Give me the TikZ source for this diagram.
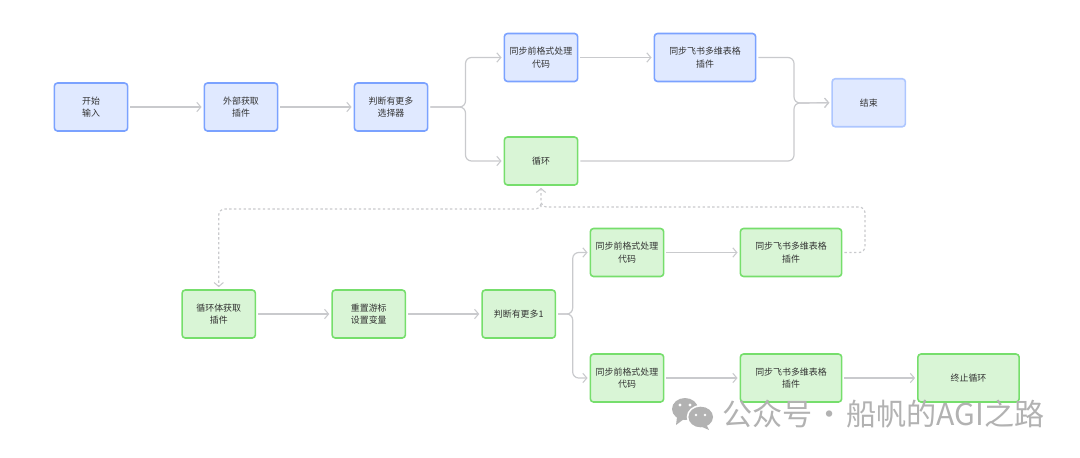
\documentclass[tikz,border=0pt]{standalone}
\usepackage{fontspec}
\newfontfamily\cjk{Noto Sans CJK SC}
\usetikzlibrary{arrows.meta}
\definecolor{blueFill}{HTML}{E0E9FF}
\definecolor{blueLine}{HTML}{7BA2FF}
\definecolor{endLine}{HTML}{ADC6FF}
\definecolor{greenFill}{HTML}{D9F5D6}
\definecolor{greenLine}{HTML}{76DE6C}
\definecolor{linkGray}{HTML}{C9CACD}
\definecolor{markGray}{HTML}{B2B2B2}
\tikzset{
  box/.style={draw, line width=1.2pt, rounded corners=2.4pt, minimum height=36pt, inner sep=0pt,
    align=center, text=black!80, font=\cjk\fontsize{6.7}{9.5}\selectfont},
  bluebox/.style={box, draw=blueLine, fill=blueFill},
  greenbox/.style={box, draw=greenLine, fill=greenFill},
  narrow/.style={minimum width=55pt},
  wide/.style={minimum width=76pt},
  link/.style={draw=linkGray, line width=0.9pt, rounded corners=4.5pt, shorten <=1.5pt, shorten >=1.5pt,
    -{Straight Barb[length=3pt,width=7pt,line width=0.8pt]}},
  back/.style={link, dash pattern=on 1.8pt off 1.8pt},
}

\begin{document}
\begin{tikzpicture}[x=0.75pt,y=-0.75pt]

    \useasboundingbox (0,0) rectangle (1080,457);

    % ----- Top row
    \node[bluebox, narrow] (start) at (91,107) {开始\\输入};
    \node[bluebox, narrow] (fetch) at (241,107) {外部获取\\插件};
    \node[bluebox, narrow] (pick) at (391,107) {判断有更多\\选择器};
    \node[bluebox, narrow] (fmtA) at (541,57.5) {同步前格式处理\\代码};
    \node[bluebox, wide] (syncA) at (705,57.5) {同步飞书多维表格\\插件};
    \node[bluebox, narrow, draw=endLine] (finish) at (868.75,102.75) {结束};

    % ----- Loop body
    \node[greenbox, narrow] (loop) at (541,161) {循环};
    \node[greenbox, narrow] (body) at (218.75,314) {循环体获取\\插件};
    \node[greenbox, narrow] (reset) at (368.75,314) {重置游标\\设置变量};
    \node[greenbox, narrow] (more) at (518.75,314) {判断有更多1};
    \node[greenbox, narrow] (fmtB) at (627,252.5) {同步前格式处理\\代码};
    \node[greenbox, wide] (syncB) at (791,252.5) {同步飞书多维表格\\插件};
    \node[greenbox, narrow] (fmtC) at (627,378) {同步前格式处理\\代码};
    \node[greenbox, wide] (syncC) at (791,378) {同步飞书多维表格\\插件};
    \node[greenbox, wide] (stop) at (968.5,378) {终止循环};

    \coordinate (splitA) at (465.5,107);
    \coordinate (joinA) at (794,103);
    \coordinate (splitB) at (572.7,314);
    \coordinate (backR) at (865,207);
    \coordinate (backM) at (541,207);
    \coordinate (backL) at (541,209);

    \foreach \a/\b in {start/fetch, fetch/pick, fmtA/syncA, body/reset, reset/more, fmtB/syncB, fmtC/syncC, syncC/stop}
        \draw[link] (\a.east) -- (\b.west);

    \foreach \b in {fmtA, loop}
        \draw[link] (pick.east) -- (splitA) |- (\b.west);
    \foreach \a in {syncA, loop}
        \draw[link] (\a.east) -| (joinA) -- (finish.west);
    \foreach \b in {fmtB, fmtC}
        \draw[link] (more.east) -- (splitB) |- (\b.west);

    \draw[back] (syncB.east) -| (backR) -- (backM) -- (loop.south); % ----- Return
    \draw[back, shorten <=0pt] (loop.south |- backM) -- (backL) -- (body.north |- backL) -- (body.north);

    \fill[markGray] (685,409) ellipse (13 and 11); % ----- Watermark
    \fill[markGray] (677,417) -- (676,425) -- (684,419) -- cycle;
    \fill[white] (700.7,417) ellipse (14 and 12);
    \fill[markGray] (700.7,417) ellipse (12.3 and 10.3);
    \fill[markGray] (706,424) -- (709,430) -- (700,426) -- cycle;
    \foreach \x/\y/\r in {680/405/1.7, 690/405/1.7, 696/415/1.4, 705/415/1.4}
        \fill[white] (\x,\y) circle (\r);
    \node[text=markGray, inner sep=0pt, anchor=west, font=\cjk\fontsize{22.6}{24}\selectfont] (wmark) at (722,414) {公众号\hspace{-3.8pt} · \hspace{-3.8pt}船帆的AGI之路};
\end{tikzpicture}
\end{document}
